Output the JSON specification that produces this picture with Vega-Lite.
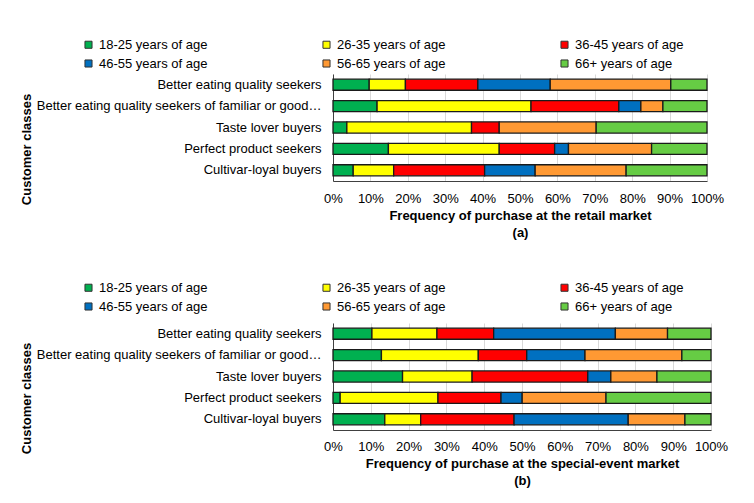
{
  "$schema": "https://vega.github.io/schema/vega-lite/v6.json",
  "background": "white",
  "padding": {"left": 20, "top": 38, "right": 5, "bottom": 5},
  "spacing": 42,
  "config": {
    "font": "Liberation Sans",
    "view": {"stroke": null},
    "axis": {"labelColor": "black", "titleColor": "black", "labelFontSize": 13, "titleFontSize": 13, "titleFontWeight": "bold", "domainColor": "#404040", "domainWidth": 1}
  },
  "datasets": {
    "a": [
      {"cls": "Better eating quality seekers", "age": "18-25 years of age", "pct": 9.7},
      {"cls": "Better eating quality seekers", "age": "26-35 years of age", "pct": 9.7},
      {"cls": "Better eating quality seekers", "age": "36-45 years of age", "pct": 19.4},
      {"cls": "Better eating quality seekers", "age": "46-55 years of age", "pct": 19.4},
      {"cls": "Better eating quality seekers", "age": "56-65 years of age", "pct": 32.3},
      {"cls": "Better eating quality seekers", "age": "66+ years of age", "pct": 9.7},
      {"cls": "Better eating quality seekers of familiar or good-value cultivars", "age": "18-25 years of age", "pct": 11.8},
      {"cls": "Better eating quality seekers of familiar or good-value cultivars", "age": "26-35 years of age", "pct": 41.2},
      {"cls": "Better eating quality seekers of familiar or good-value cultivars", "age": "36-45 years of age", "pct": 23.5},
      {"cls": "Better eating quality seekers of familiar or good-value cultivars", "age": "46-55 years of age", "pct": 5.9},
      {"cls": "Better eating quality seekers of familiar or good-value cultivars", "age": "56-65 years of age", "pct": 5.9},
      {"cls": "Better eating quality seekers of familiar or good-value cultivars", "age": "66+ years of age", "pct": 11.8},
      {"cls": "Taste lover buyers", "age": "18-25 years of age", "pct": 3.7},
      {"cls": "Taste lover buyers", "age": "26-35 years of age", "pct": 33.3},
      {"cls": "Taste lover buyers", "age": "36-45 years of age", "pct": 7.4},
      {"cls": "Taste lover buyers", "age": "56-65 years of age", "pct": 25.9},
      {"cls": "Taste lover buyers", "age": "66+ years of age", "pct": 29.6},
      {"cls": "Perfect product seekers", "age": "18-25 years of age", "pct": 14.8},
      {"cls": "Perfect product seekers", "age": "26-35 years of age", "pct": 29.6},
      {"cls": "Perfect product seekers", "age": "36-45 years of age", "pct": 14.8},
      {"cls": "Perfect product seekers", "age": "46-55 years of age", "pct": 3.7},
      {"cls": "Perfect product seekers", "age": "56-65 years of age", "pct": 22.2},
      {"cls": "Perfect product seekers", "age": "66+ years of age", "pct": 14.8},
      {"cls": "Cultivar-loyal buyers", "age": "18-25 years of age", "pct": 5.4},
      {"cls": "Cultivar-loyal buyers", "age": "26-35 years of age", "pct": 10.8},
      {"cls": "Cultivar-loyal buyers", "age": "36-45 years of age", "pct": 24.3},
      {"cls": "Cultivar-loyal buyers", "age": "46-55 years of age", "pct": 13.5},
      {"cls": "Cultivar-loyal buyers", "age": "56-65 years of age", "pct": 24.3},
      {"cls": "Cultivar-loyal buyers", "age": "66+ years of age", "pct": 21.6}
    ],
    "b": [
      {"cls": "Better eating quality seekers", "age": "18-25 years of age", "pct": 10.3},
      {"cls": "Better eating quality seekers", "age": "26-35 years of age", "pct": 17.2},
      {"cls": "Better eating quality seekers", "age": "36-45 years of age", "pct": 15.0},
      {"cls": "Better eating quality seekers", "age": "46-55 years of age", "pct": 32.2},
      {"cls": "Better eating quality seekers", "age": "56-65 years of age", "pct": 13.8},
      {"cls": "Better eating quality seekers", "age": "66+ years of age", "pct": 11.5},
      {"cls": "Better eating quality seekers of familiar or good-value cultivars", "age": "18-25 years of age", "pct": 12.8},
      {"cls": "Better eating quality seekers of familiar or good-value cultivars", "age": "26-35 years of age", "pct": 25.6},
      {"cls": "Better eating quality seekers of familiar or good-value cultivars", "age": "36-45 years of age", "pct": 12.8},
      {"cls": "Better eating quality seekers of familiar or good-value cultivars", "age": "46-55 years of age", "pct": 15.4},
      {"cls": "Better eating quality seekers of familiar or good-value cultivars", "age": "56-65 years of age", "pct": 25.6},
      {"cls": "Better eating quality seekers of familiar or good-value cultivars", "age": "66+ years of age", "pct": 7.7},
      {"cls": "Taste lover buyers", "age": "18-25 years of age", "pct": 18.4},
      {"cls": "Taste lover buyers", "age": "26-35 years of age", "pct": 18.4},
      {"cls": "Taste lover buyers", "age": "36-45 years of age", "pct": 30.6},
      {"cls": "Taste lover buyers", "age": "46-55 years of age", "pct": 6.1},
      {"cls": "Taste lover buyers", "age": "56-65 years of age", "pct": 12.2},
      {"cls": "Taste lover buyers", "age": "66+ years of age", "pct": 14.3},
      {"cls": "Perfect product seekers", "age": "18-25 years of age", "pct": 1.9},
      {"cls": "Perfect product seekers", "age": "26-35 years of age", "pct": 25.9},
      {"cls": "Perfect product seekers", "age": "36-45 years of age", "pct": 16.7},
      {"cls": "Perfect product seekers", "age": "46-55 years of age", "pct": 5.6},
      {"cls": "Perfect product seekers", "age": "56-65 years of age", "pct": 22.2},
      {"cls": "Perfect product seekers", "age": "66+ years of age", "pct": 27.8},
      {"cls": "Cultivar-loyal buyers", "age": "18-25 years of age", "pct": 13.7},
      {"cls": "Cultivar-loyal buyers", "age": "26-35 years of age", "pct": 9.5},
      {"cls": "Cultivar-loyal buyers", "age": "36-45 years of age", "pct": 24.7},
      {"cls": "Cultivar-loyal buyers", "age": "46-55 years of age", "pct": 30.2},
      {"cls": "Cultivar-loyal buyers", "age": "56-65 years of age", "pct": 15.0},
      {"cls": "Cultivar-loyal buyers", "age": "66+ years of age", "pct": 6.9}
    ]
  },
  "resolve": {"legend": {"color": "independent"}, "scale": {"color": "independent"}},
  "vconcat": [
    {
      "width": 374,
      "height": 107,
      "data": {"name": "a"},
      "mark": {"type": "bar", "stroke": "#1a1a1a", "strokeWidth": 1.3},
      "encoding": {
        "y": {
          "field": "cls", "type": "nominal",
          "sort": ["Better eating quality seekers", "Better eating quality seekers of familiar or good-value cultivars", "Taste lover buyers", "Perfect product seekers", "Cultivar-loyal buyers"],
          "scale": {"paddingInner": 0.48, "paddingOuter": 0.24},
          "axis": {"title": "Customer classes", "labelLimit": 285, "ticks": false, "labelPadding": 12, "titleY": 75, "titleX": -300}
        },
        "x": {
          "field": "pct", "type": "quantitative", "stack": "normalize",
          "scale": {"domain": [0, 1]},
          "axis": {"format": ".0%", "values": [0, 0.1, 0.2, 0.3, 0.4, 0.5, 0.6, 0.7, 0.8, 0.9, 1], "labelOverlap": false, "labelFlush": false, "title": ["Frequency of purchase at the retail market", "(a)"], "grid": true, "gridColor": "#d9d9d9", "ticks": false, "labelPadding": 11, "titlePadding": 4, "titleLineHeight": 17}
        },
        "color": {
          "field": "age", "type": "nominal",
          "scale": {"domain": ["18-25 years of age", "26-35 years of age", "36-45 years of age", "46-55 years of age", "56-65 years of age", "66+ years of age"], "range": ["#00B050", "#FFFF00", "#FF0000", "#0070C0", "#FF9933", "#66CC44"]},
          "legend": {"title": null, "orient": "none", "direction": "horizontal", "legendX": -251, "legendY": -36, "columns": 3, "columnPadding": 112, "rowPadding": 5, "symbolType": "square", "symbolSize": 50, "symbolStrokeColor": "#333333", "symbolStrokeWidth": 1, "labelFontSize": 13, "labelColor": "black", "labelOffset": 4, "labelLimit": 200}
        }
      }
    },
    {
      "width": 378,
      "height": 107,
      "data": {"name": "b"},
      "mark": {"type": "bar", "stroke": "#1a1a1a", "strokeWidth": 1.3},
      "encoding": {
        "y": {
          "field": "cls", "type": "nominal",
          "sort": ["Better eating quality seekers", "Better eating quality seekers of familiar or good-value cultivars", "Taste lover buyers", "Perfect product seekers", "Cultivar-loyal buyers"],
          "scale": {"paddingInner": 0.48, "paddingOuter": 0.24},
          "axis": {"title": "Customer classes", "labelLimit": 285, "ticks": false, "labelPadding": 12, "titleY": 75, "titleX": -300}
        },
        "x": {
          "field": "pct", "type": "quantitative", "stack": "normalize",
          "scale": {"domain": [0, 1]},
          "axis": {"format": ".0%", "values": [0, 0.1, 0.2, 0.3, 0.4, 0.5, 0.6, 0.7, 0.8, 0.9, 1], "labelOverlap": false, "labelFlush": false, "title": ["Frequency of purchase at the special-event market", "(b)"], "grid": true, "gridColor": "#d9d9d9", "ticks": false, "labelPadding": 10, "titlePadding": 4, "titleLineHeight": 17}
        },
        "color": {
          "field": "age", "type": "nominal",
          "scale": {"domain": ["18-25 years of age", "26-35 years of age", "36-45 years of age", "46-55 years of age", "56-65 years of age", "66+ years of age"], "range": ["#00B050", "#FFFF00", "#FF0000", "#0070C0", "#FF9933", "#66CC44"]},
          "legend": {"title": null, "orient": "none", "direction": "horizontal", "legendX": -251, "legendY": -42, "columns": 3, "columnPadding": 112, "rowPadding": 5, "symbolType": "square", "symbolSize": 50, "symbolStrokeColor": "#333333", "symbolStrokeWidth": 1, "labelFontSize": 13, "labelColor": "black", "labelOffset": 4, "labelLimit": 200}
        }
      }
    }
  ]
}
